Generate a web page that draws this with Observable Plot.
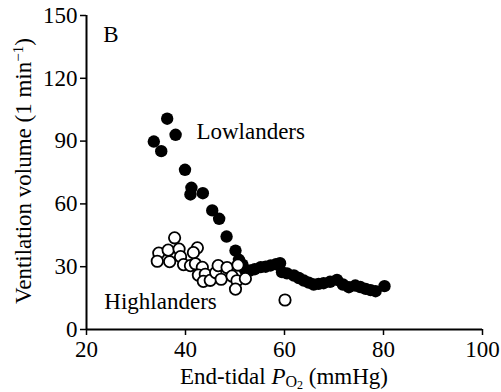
<!DOCTYPE html>
<html><head><meta charset="utf-8">
<script src="https://cdn.jsdelivr.net/npm/d3@7"></script>
<script src="https://cdn.jsdelivr.net/npm/@observablehq/plot@0.6"></script>
<style>body{margin:0;background:#fff}svg{display:block}</style>
</head><body><div id="chart"></div>
<script>
// Lowlanders (filled circles)
const lowX = [33.6, 35.1, 36.3, 38.0, 39.9, 41.2, 41.0, 43.5, 45.4, 46.8, 48.3, 50.1, 50.8, 51.5, 52.0, 53.1, 54.0, 55.2, 56.2, 57.2, 58.3, 59.1, 59.5, 60.5, 61.9, 62.9, 63.9, 64.9, 65.9, 66.9, 67.9, 69.2, 70.6, 71.8, 73.0, 74.3, 75.3, 76.4, 77.4, 78.4, 80.2];
const lowY = [89.8, 85.2, 100.7, 93.0, 76.3, 67.7, 64.5, 65.1, 56.9, 52.9, 44.4, 37.7, 33.3, 31.0, 28.5, 28.2, 28.8, 29.8, 30.0, 30.6, 31.2, 31.7, 27.4, 26.8, 25.8, 24.6, 23.4, 22.4, 21.5, 21.8, 22.1, 22.8, 23.7, 21.5, 20.2, 21.0, 20.3, 19.4, 18.8, 18.3, 20.7];
// Highlanders (open circles)
const highX = [37.8, 34.6, 36.5, 38.7, 42.4, 41.6, 34.3, 36.8, 39.0, 39.6, 41.0, 42.0, 43.4, 42.6, 44.0, 43.6, 45.0, 46.1, 46.6, 47.2, 48.4, 49.4, 50.4, 50.1, 50.6, 52.1, 60.1];
const highY = [43.8, 36.5, 37.9, 38.4, 39.0, 36.7, 32.6, 32.4, 34.8, 31.0, 30.5, 31.4, 29.7, 26.0, 26.4, 23.0, 23.5, 27.2, 30.5, 24.0, 29.6, 25.5, 23.3, 19.3, 30.8, 24.3, 14.1];
// Tick values
const xTicks = [20, 40, 60, 80, 100];
const yTicks = [0, 30, 60, 90, 120, 150];
// In-plot annotations
const labelText = ["B", "Lowlanders", "Highlanders"];
const labelX = [23.4, 42.2, 23.6];
const labelY = [141.0, 94.3, 13.1];

const low = lowX.map((x, i) => ({x, y: lowY[i]}));
const high = highX.map((x, i) => ({x, y: highY[i]}));
const labels = labelText.map((t, i) => ({t, x: labelX[i], y: labelY[i]}));

const FONT = "'Liberation Serif', 'Times New Roman', Times, 'DejaVu Serif', serif";
const FS = 23;

const chart = Plot.plot({
  width: 501, height: 392,
  marginLeft: 86, marginRight: 19, marginTop: 15, marginBottom: 63,
  x: {domain: [20, 100]},
  y: {domain: [0, 150]},
  style: {fontFamily: FONT, fontSize: FS + "px", color: "black", background: "white", overflow: "visible"},
  marks: [
    Plot.axisX({ticks: xTicks, tickSize: 6, tickPadding: 5, label: null, fontSize: FS, strokeWidth: 1.5, tickFormat: d => String(d)}),
    Plot.axisY({ticks: yTicks, tickSize: 6, tickPadding: 3, label: null, fontSize: FS, strokeWidth: 1.5, tickFormat: d => String(d)}),
    Plot.ruleY([0], {stroke: "black", strokeWidth: 2}),
    Plot.ruleX([20], {stroke: "black", strokeWidth: 2}),
    Plot.dot(low, {x: "x", y: "y", r: 6.2, fill: "black", stroke: "none"}),
    Plot.dot(high, {x: "x", y: "y", r: 5.7, fill: "white", stroke: "black", strokeWidth: 1.8}),
    Plot.text(labels, {x: "x", y: "y", text: "t", textAnchor: "start", fontSize: FS, fill: "black"})
  ]
});
document.getElementById("chart").appendChild(chart);
d3.select(chart).selectAll("text").style("font-family", FONT);

const svg = d3.select(chart);
// Y axis title
const yt = svg.append("text")
  .attr("transform", "translate(31,171) rotate(-90)")
  .attr("text-anchor", "middle")
  .style("font-family", FONT).attr("font-size", FS).attr("fill", "black");
yt.append("tspan").text("Ventilation volume (1 min");
yt.append("tspan").attr("font-size", 15).attr("dy", -8).text("\u22121");
yt.append("tspan").attr("dy", 8).text(")");
// X axis title
const xt = svg.append("text")
  .attr("x", 284).attr("y", 384)
  .attr("text-anchor", "middle")
  .style("font-family", FONT).attr("font-size", FS).attr("fill", "black");
xt.append("tspan").text("End-tidal ");
xt.append("tspan").attr("font-style", "italic").text("P");
xt.append("tspan").attr("font-size", 16).attr("dy", 3).text("O");
xt.append("tspan").attr("font-size", 12).attr("dy", 2).text("2");
xt.append("tspan").attr("dy", -5).text(" (mmHg)");
</script>
</body></html>
